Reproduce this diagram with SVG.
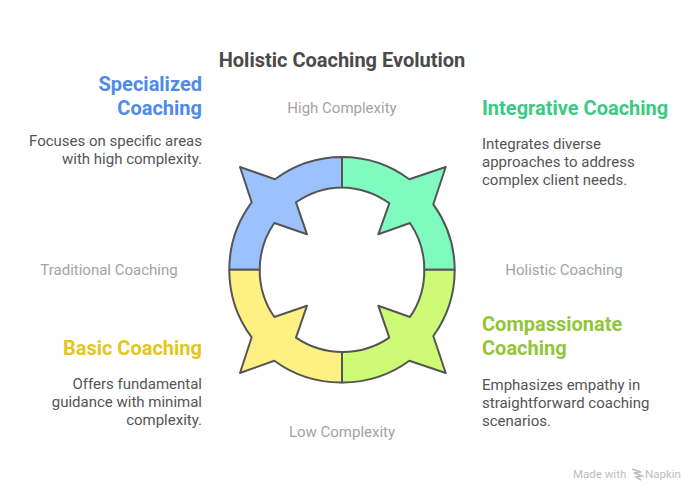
<svg xmlns="http://www.w3.org/2000/svg" width="696" height="492" viewBox="0 0 696 492">
<style>
text{font-family:Roboto,"Liberation Sans",sans-serif}
.seg{stroke:#555;stroke-width:2;stroke-linejoin:round}
.t{font-size:15px;fill:#555}
.h{font-size:20px;font-weight:700}
.a{font-size:15px;fill:#a3a3a3}
.e{text-anchor:end}
.m{text-anchor:middle}
</style>
<rect width="696" height="492" fill="#fff"/>
<text x="342" y="67" class="m" font-size="20" font-weight="700" fill="#4a4a4a">Holistic Coaching Evolution</text>
<g id="connectors">
<text x="342" y="113" class="a m">High Complexity</text>
<text x="342" y="437" class="a m">Low Complexity</text>
<text x="109" y="275" class="a m">Traditional Coaching</text>
<text x="564" y="275" class="a m">Holistic Coaching</text>
</g>
<g id="node-integrative">
<path class="seg" fill="#80fbbf" d="M342 157A112.7 112.7 0 0 1 409.3 179.3L445.7 167L433.3 204.3A112.7 112.7 0 0 1 454.7 269.7H424.3A82.3 82.3 0 0 0 410 223L378.3 234.3L389.3 203.3A82.3 82.3 0 0 0 342 187.4Z"/>
<text x="482" y="115" class="h" fill="#3cc984">Integrative Coaching</text>
<text x="482" y="149" class="t">Integrates diverse</text>
<text x="482" y="167" class="t">approaches to address</text>
<text x="482" y="185" class="t">complex client needs.</text>
</g>
<g id="node-specialized">
<path class="seg" fill="#9bc1ff" d="M342 157A112.7 112.7 0 0 0 275 179.3L240 167L251.7 202.3A112.7 112.7 0 0 0 229.3 269.7H259.7A82.3 82.3 0 0 1 274.3 223L307 234.3L296 202.3A82.3 82.3 0 0 1 342 187.4Z"/>
<text x="202" y="91" class="h e" fill="#4f8ae8">Specialized</text>
<text x="202" y="115" class="h e" fill="#4f8ae8">Coaching</text>
<text x="202" y="146" class="t e">Focuses on specific areas</text>
<text x="202" y="164" class="t e">with high complexity.</text>
</g>
<g id="node-compassionate">
<path class="seg" fill="#cdfb76" d="M342 382.4A112.7 112.7 0 0 0 409.3 360.7L445.7 373L433.3 336A112.7 112.7 0 0 0 454.7 269.7H424.3A82.3 82.3 0 0 1 410 317L378.3 305.7L389.3 337.7A82.3 82.3 0 0 1 342 352Z"/>
<text x="482" y="331" class="h" fill="#93c43c">Compassionate</text>
<text x="482" y="355" class="h" fill="#93c43c">Coaching</text>
<text x="482" y="390" class="t">Emphasizes empathy in</text>
<text x="482" y="408" class="t">straightforward coaching</text>
<text x="482" y="426" class="t">scenarios.</text>
</g>
<g id="node-basic">
<path class="seg" fill="#fff084" d="M342 382.4A112.7 112.7 0 0 1 274.3 360.7L240 373L251.7 337.3A112.7 112.7 0 0 1 229.3 269.7H259.7A82.3 82.3 0 0 0 274.3 317L307 305.7L296 337.7A82.3 82.3 0 0 0 342 352Z"/>
<text x="202" y="355" class="h e" fill="#e2c818">Basic Coaching</text>
<text x="202" y="389" class="t e">Offers fundamental</text>
<text x="202" y="407" class="t e">guidance with minimal</text>
<text x="202" y="425" class="t e">complexity.</text>
</g>
<g id="watermark">
<text x="573" y="478" font-size="11.5" fill="#bdbdbd">Made with</text>
<path d="M632 469l9 3-7 1 8 3-6 1 5 3" fill="none" stroke="#bdbdbd" stroke-width="1.5"/>
<text x="645" y="478" font-size="11.5" fill="#bdbdbd">Napkin</text>
</g>
</svg>
